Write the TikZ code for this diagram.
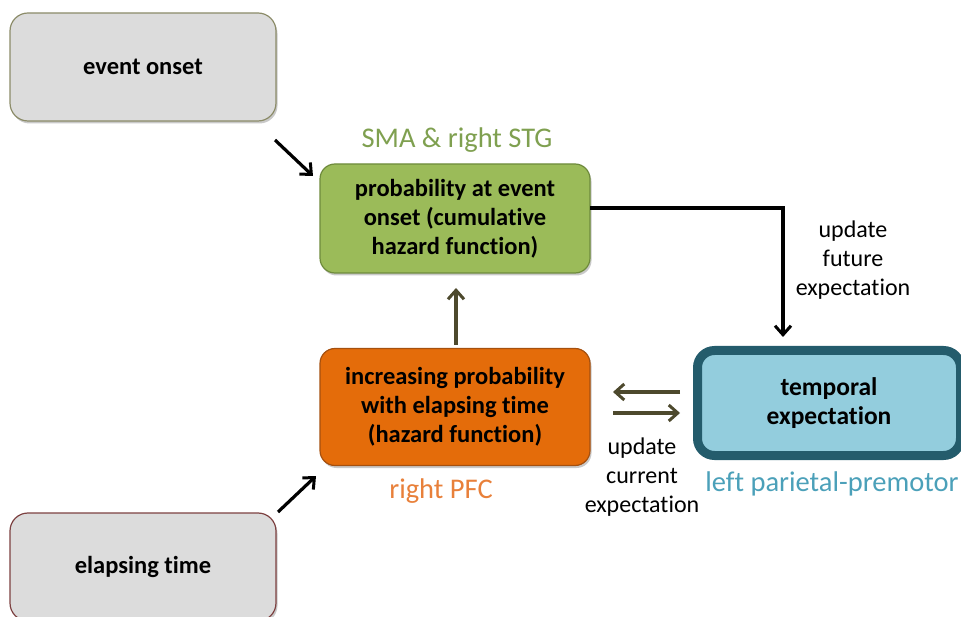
\documentclass[tikz,border=0pt]{standalone}
\usepackage{fontspec}
\setmainfont{Carlito}[Ligatures=NoCommon]
\usetikzlibrary{shadows,arrows.meta,calc}
\definecolor{grayfill}{RGB}{220,220,220}
\definecolor{eoborder}{RGB}{140,140,105}
\definecolor{etborder}{RGB}{125,65,65}
\definecolor{greenfill}{RGB}{155,187,89}
\definecolor{greenborder}{RGB}{110,138,60}
\definecolor{greentext}{RGB}{127,160,80}
\definecolor{orangefill}{RGB}{228,108,10}
\definecolor{orangeborder}{RGB}{165,80,15}
\definecolor{orangetext}{RGB}{232,128,58}
\definecolor{bluefill}{RGB}{147,205,221}
\definecolor{blueborder}{RGB}{36,92,108}
\definecolor{bluetext}{RGB}{75,160,185}
\definecolor{olivearrow}{RGB}{77,73,45}
\begin{document}
\begin{tikzpicture}[x=1pt,y=-1pt,
  boxnode/.style={rounded corners=18pt, line width=1.2pt, align=center,
    font=\bfseries\fontsize{24.5}{29}\selectfont, inner sep=0pt,
    drop shadow={shadow xshift=1.5pt, shadow yshift=-2.5pt, opacity=0.3, fill=black!70}},
  arealabel/.style={font=\fontsize{28.5}{30}\selectfont},
  edgelabel/.style={font=\fontsize{24}{29}\selectfont, align=center},
  blk/.style={line width=3.2pt, black, -{Straight Barb[length=9pt,width=16pt,line width=3pt]}},
  olv/.style={line width=3.5pt, olivearrow, -{Straight Barb[length=9pt,width=16pt,line width=3pt]}}
]
\useasboundingbox (0,0) rectangle (961,617);

\node[boxnode, fill=grayfill, draw=eoborder, minimum width=266pt, minimum height=108pt] (eo) at (143,67) {event onset};
\node[boxnode, fill=grayfill, draw=etborder, minimum width=266pt, minimum height=108pt] (et) at (143,567) {elapsing time};
\node[boxnode, fill=greenfill, draw=greenborder, rounded corners=15pt, minimum width=270pt, minimum height=109pt] (gr) at (455,218.5) {probability at event\\onset (cumulative\\hazard function)};
\node[boxnode, fill=orangefill, draw=orangeborder, rounded corners=15pt, minimum width=270pt, minimum height=117pt] (or) at (455,407) {increasing probability\\with elapsing time\\(hazard function)};
\node[boxnode, fill=bluefill, draw=blueborder, line width=9pt, rounded corners=17pt, minimum width=263pt, minimum height=105pt, font=\bfseries\fontsize{25.5}{28.5}\selectfont] (bl) at (829,403) {temporal\\expectation};

\node[arealabel, text=greentext] (lsma) at (457,140) {SMA \& right STG};
\node[arealabel, text=orangetext] (lpfc) at (441,491) {right PFC};
\node[arealabel, text=bluetext] (lpar) at (832,484) {left parietal-premotor};

\node[edgelabel] (lfut) at (853,260) {update\\future\\expectation};
\node[edgelabel] (lcur) at (642,477) {update\\current\\expectation};

\coordinate (a1) at (275,140);
\coordinate (a2) at (313,176);
\coordinate (b1) at (278,512);
\coordinate (b2) at (316,476);
\coordinate (c1) at (590,208);
\coordinate (c2) at (783,337);
\coordinate (d1) at (456,345);
\coordinate (d2) at (456,288);
\coordinate (e1) at (680,392);
\coordinate (e2) at (613,392);
\coordinate (f1) at (613,413);
\coordinate (f2) at (680,413);

\draw[blk] (a1) -- (a2);
\draw[blk] (b1) -- (b2);
\draw[blk] (c1) -| (c2);
\draw[olv] (d1) -- (d2);
\draw[olv] (e1) -- (e2);
\draw[olv] (f1) -- (f2);
\end{tikzpicture}
\end{document}
